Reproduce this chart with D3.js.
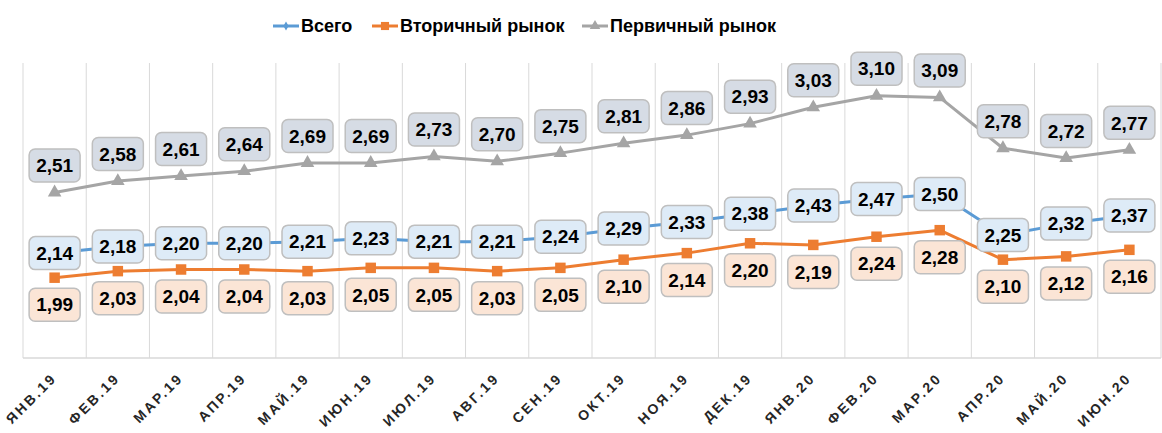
<!DOCTYPE html>
<html>
<head>
<meta charset="utf-8">
<script src="https://cdn.jsdelivr.net/npm/d3@7/dist/d3.min.js"></script>
<style>
  body { margin: 0; background: #fff; }
  svg { display: block; font-family: "Liberation Sans", Arial, sans-serif; }
</style>
</head>
<body>
<script>
var months = ["ЯНВ.19", "ФЕВ.19", "МАР.19", "АПР.19", "МАЙ.19", "ИЮН.19", "ИЮЛ.19", "АВГ.19", "СЕН.19",
  "ОКТ.19", "НОЯ.19", "ДЕК.19", "ЯНВ.20", "ФЕВ.20", "МАР.20", "АПР.20", "МАЙ.20", "ИЮН.20"];
var total = [2.14, 2.18, 2.20, 2.20, 2.21, 2.23, 2.21, 2.21, 2.24, 2.29, 2.33, 2.38, 2.43, 2.47, 2.50, 2.25, 2.32, 2.37];
var secondary = [1.99, 2.03, 2.04, 2.04, 2.03, 2.05, 2.05, 2.03, 2.05, 2.10, 2.14, 2.20, 2.19, 2.24, 2.28, 2.10, 2.12, 2.16];
var primary = [2.51, 2.58, 2.61, 2.64, 2.69, 2.69, 2.73, 2.70, 2.75, 2.81, 2.86, 2.93, 3.03, 3.10, 3.09, 2.78, 2.72, 2.77];
var yDomain = [1.5, 3.3];

var w = 1162, h = 433;
var plotLeft = 23, plotRight = 1161, plotTop = 63, plotBottom = 358;

var series = [
  { name: "Всего", data: total, color: "#5b9bd5", box: "#deebf7", shape: d3.symbolDiamond, size: 40, dy: 0 },
  { name: "Вторичный рынок", data: secondary, color: "#ed7d31", box: "#fbe5d6", shape: d3.symbolSquare, size: 110, dy: 27 },
  { name: "Первичный рынок", data: primary, color: "#a5a5a5", box: "#d6dce5", shape: d3.symbolTriangle, size: 80, dy: -27 }
];

var svg = d3.select("body").append("svg").attr("width", w).attr("height", h);

var x = d3.scaleBand().domain(months).range([plotLeft, plotRight]).padding(0);
var y = d3.scaleLinear().domain(yDomain).range([plotBottom, plotTop]);
var cx = function(m) { return x(m) + x.bandwidth() / 2; };

// vertical gridlines at category edges
var edges = months.map(function(m) { return x(m); }).concat([plotRight]);
svg.append("g").selectAll("line")
  .data(edges)
  .enter()
  .append("line")
  .attr("x1", function(d) { return d; })
  .attr("x2", function(d) { return d; })
  .attr("y1", plotTop)
  .attr("y2", plotBottom)
  .attr("stroke", "#d9d9d9")
  .attr("stroke-width", 1);

svg.append("line")
  .attr("x1", plotLeft).attr("x2", plotRight)
  .attr("y1", plotBottom).attr("y2", plotBottom)
  .attr("stroke", "#d9d9d9").attr("stroke-width", 1.5);

// x labels, rotated
svg.append("g").selectAll("text")
  .data(months)
  .enter()
  .append("text")
  .text(function(d) { return d; })
  .attr("transform", function(d) { return "translate(" + (cx(d) + 3) + "," + (plotBottom + 21) + ") rotate(-45)"; })
  .attr("text-anchor", "end")
  .attr("font-size", "14px")
  .attr("font-weight", "bold")
  .attr("letter-spacing", "2.5px")
  .attr("fill", "#262626");

// lines + markers
var line = d3.line()
  .x(function(d, i) { return cx(months[i]); })
  .y(function(d) { return y(d); });

series.forEach(function(s) {
  svg.append("path")
    .datum(s.data)
    .attr("d", line)
    .attr("fill", "none")
    .attr("stroke", s.color)
    .attr("stroke-width", 3)
    .attr("stroke-linejoin", "round");

  svg.append("g").selectAll("path")
    .data(s.data)
    .enter()
    .append("path")
    .attr("d", d3.symbol().type(s.shape).size(s.size))
    .attr("transform", function(d, i) { return "translate(" + cx(months[i]) + "," + y(d) + ")"; })
    .attr("fill", s.color);
});

// data labels
var bw = 51, bh = 33;
series.forEach(function(s) {
  var g = svg.append("g").selectAll("g")
    .data(s.data)
    .enter()
    .append("g")
    .attr("transform", function(d, i) { return "translate(" + cx(months[i]) + "," + (y(d) + s.dy) + ")"; });

  g.append("rect")
    .attr("x", -bw / 2)
    .attr("y", -bh / 2)
    .attr("width", bw)
    .attr("height", bh)
    .attr("rx", 6)
    .attr("fill", s.box)
    .attr("stroke", "#bfbfbf")
    .attr("stroke-width", 1.5);

  g.append("text")
    .text(function(d) { return d.toFixed(2).replace(".", ","); })
    .attr("text-anchor", "middle")
    .attr("dy", "0.35em")
    .attr("font-size", "19px")
    .attr("font-weight", "bold")
    .attr("fill", "#000");
});

// legend
var legendX = [273, 372, 582];
series.forEach(function(s, i) {
  var lg = svg.append("g").attr("transform", "translate(" + legendX[i] + ",26)");
  lg.append("line")
    .attr("x1", 0).attr("x2", 26)
    .attr("stroke", s.color).attr("stroke-width", 3);
  lg.append("path")
    .attr("d", d3.symbol().type(s.shape).size(s.size * 0.6))
    .attr("transform", "translate(13,0)")
    .attr("fill", s.color);
  lg.append("text")
    .text(s.name)
    .attr("x", 28)
    .attr("dy", "0.35em")
    .attr("font-size", "18px")
    .attr("font-weight", "bold")
    .attr("fill", "#000");
});
</script>
</body>
</html>
